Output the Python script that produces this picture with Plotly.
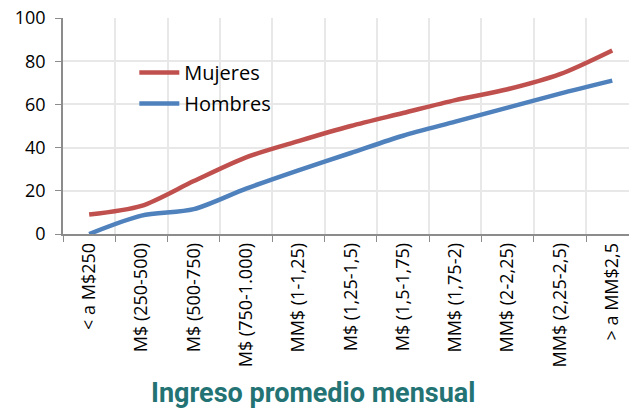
import plotly.graph_objects as go

categories = ["< a M$250", "M$ (250-500)", "M$ (500-750)", "M$ (750-1.000)",
              "MM$ (1-1,25)", "M$ (1,25-1,5)", "M$ (1,5-1,75)", "MM$ (1,75-2)",
              "MM$ (2-2,25)", "MM$ (2,25-2,5)", "> a MM$2,5"]
mujeres = [9, 13, 24.5, 35.5, 43, 50, 56, 62, 67, 74, 85]
hombres = [0, 8.5, 11.5, 21, 29.5, 37.5, 45.5, 52, 58.5, 65, 71]
y_ticks = [0, 20, 40, 60, 80, 100]

fig = go.Figure()
fig.add_trace(go.Scatter(x=categories, y=mujeres, name="Mujeres", mode="lines", legendgroup="m",
                         line=dict(color="#C0504D", width=4.5, shape="spline", smoothing=0.8)))
fig.add_trace(go.Scatter(x=categories, y=hombres, name="Hombres", mode="lines", legendgroup="h",
                         line=dict(color="#4F81BD", width=4.5, shape="spline", smoothing=0.8)))

W, H = 629, 414
L, T, B, R = 63, 18, 180, 0
fig.update_layout(
    width=W, height=H,
    margin=dict(l=L, r=R, t=T, b=B, autoexpand=False),
    paper_bgcolor="white", plot_bgcolor="white",
    font=dict(family="Open Sans", size=18, color="#000000"),
    showlegend=True,
    legend=dict(x=0.126, y=0.838, xanchor="left", yanchor="top",
                font=dict(size=20, family="Open Sans", color="#000"),
                bgcolor="rgba(0,0,0,0)", itemwidth=40, tracegroupgap=2),
    xaxis=dict(type="category", range=[-0.5, 10.32], tickson="boundaries", automargin=False,
               showgrid=True, gridcolor="#E8E8E8", gridwidth=1.5,
               showline=True, linecolor="#8C8C8C", linewidth=1.5,
               ticks="outside", ticklen=6, tickcolor="#8C8C8C",
               tickangle=-90, tickfont=dict(size=18, family="Open Sans")),
    yaxis=dict(range=[0, 100], tickvals=y_ticks, showgrid=True, gridcolor="#E8E8E8",
               gridwidth=1.5, zeroline=False, automargin=False,
               showline=True, linecolor="#8C8C8C", linewidth=1.5,
               ticks="outside", ticklen=6, tickcolor="#8C8C8C", ticklabelstandoff=6,
               tickfont=dict(size=18, family="Open Sans")),
)
fig.add_annotation(text="<b>Ingreso promedio mensual</b>", xref="paper", yref="paper",
                   x=(313 - L) / (W - L - R), y=-(393 - (H - B)) / (H - T - B),
                   xanchor="center", yanchor="middle", showarrow=False,
                   font=dict(family="Roboto", size=27, color="#237374"))

fig.write_html("out.html", config={"displayModeBar": False},
               post_script="document.body.style.margin='0';document.body.style.overflow='hidden';")
